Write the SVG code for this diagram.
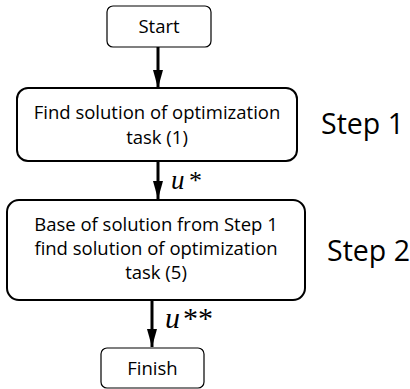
<svg xmlns="http://www.w3.org/2000/svg" width="410" height="389" viewBox="0 0 410 389">
<style>
.box{fill:#fff;stroke:#000}
.thin{stroke-width:1.2}
.thick{stroke-width:2}
.t{font-family:"Open Sans","Liberation Sans",sans-serif;font-size:18.5px;fill:#000;text-anchor:middle}
.step{font-family:"Open Sans","Liberation Sans",sans-serif;font-size:28.5px;fill:#000}
.math{font-family:"Liberation Serif","DejaVu Serif",serif;fill:#000}
.it{font-style:italic}
.conn{stroke:#000;stroke-width:3;fill:none}
</style>
<defs>
<marker id="ah" viewBox="0 0 18 10" refX="18" refY="5" markerWidth="6" markerHeight="3.33" orient="auto" markerUnits="strokeWidth">
<path d="M0,0 L18,5 L0,10 z" fill="#000"/>
</marker>
</defs>
<g id="connectors">
<line class="conn" x1="158" y1="47" x2="158" y2="88" marker-end="url(#ah)"/>
<line class="conn" x1="158" y1="161" x2="158" y2="199" marker-end="url(#ah)"/>
<line class="conn" x1="152" y1="300" x2="152" y2="347" marker-end="url(#ah)"/>
<text class="math it" x="171" y="189" font-size="27">u</text>
<text class="math" x="189" y="189" font-size="26">*</text>
<text class="math it" x="165" y="328" font-size="30">u</text>
<text class="math" x="183" y="328" font-size="30">**</text>
</g>
<g id="start">
<rect class="box thin" x="107" y="6" width="104" height="41" rx="6"/>
<text class="t" x="159" y="33">Start</text>
</g>
<g id="step1">
<rect class="box thick" x="17" y="88" width="280" height="73" rx="11"/>
<text class="t" x="157" y="119">Find solution of optimization</text>
<text class="t" x="157" y="144">task (1)</text>
</g>
<text class="step" x="321" y="134">Step 1</text>
<g id="step2">
<rect class="box thick" x="7" y="200" width="298" height="100" rx="12"/>
<text class="t" x="156" y="231">Base of solution from Step 1</text>
<text class="t" x="156" y="255">find solution of optimization</text>
<text class="t" x="156" y="279">task (5)</text>
</g>
<text class="step" x="327" y="261">Step 2</text>
<g id="finish">
<rect class="box thin" x="101" y="348" width="103" height="40" rx="6"/>
<text class="t" x="152.5" y="375">Finish</text>
</g>
</svg>
